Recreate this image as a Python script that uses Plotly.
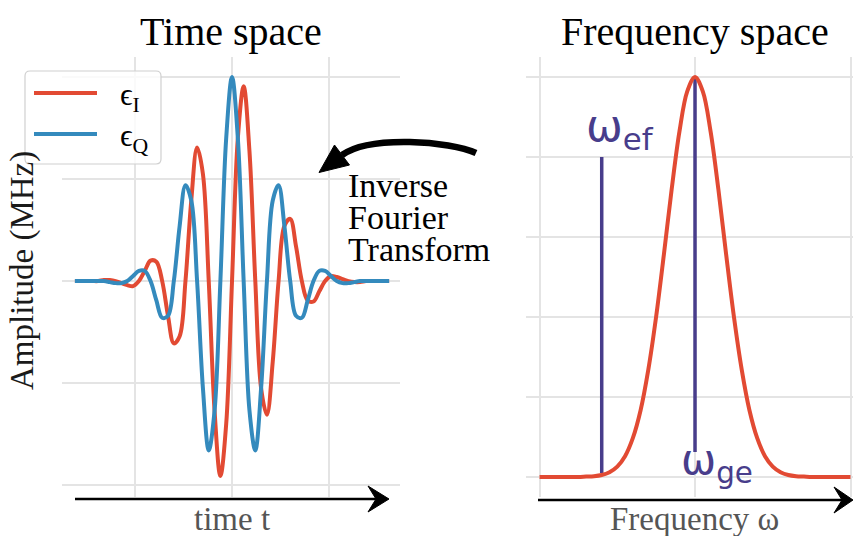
import plotly.graph_objects as go

W, H = 853, 536

# ---- time-domain pulse (in-phase / quadrature components) ----
time_t = [-1.62, -1.56, -1.50, -1.44, -1.38, -1.32, -1.26, -1.20, -1.14, -1.08,
          -1.02, -0.96, -0.90, -0.84, -0.78, -0.72, -0.66, -0.60, -0.54, -0.48,
          -0.42, -0.36, -0.30, -0.24, -0.18, -0.12, -0.06, 0.00, 0.06, 0.12,
          0.18, 0.24, 0.30, 0.36, 0.42, 0.48, 0.54, 0.60, 0.66, 0.72,
          0.78, 0.84, 0.90, 0.96, 1.02, 1.08, 1.14, 1.20, 1.26, 1.32,
          1.38, 1.44, 1.50, 1.56, 1.62]

eps_I = [0.00, 0.00, 0.00, 0.00, 0.00, 0.01, 0.01, 0.00, -0.02, -0.04,
         -0.05, 0.00, 0.10, 0.20, 0.19, 0.00, -0.34, -0.61, -0.54, 0.00,
         0.79, 1.31, 1.05, 0.00, -1.27, -1.91, -1.40, 0.00, 1.40, 1.91,
         1.27, 0.00, -1.05, -1.31, -0.79, 0.00, 0.54, 0.61, 0.34, 0.00,
         -0.19, -0.20, -0.10, 0.00, 0.05, 0.04, 0.02, 0.00, -0.01, -0.01,
         0.00, 0.00, 0.00, 0.00, 0.00]

eps_Q = [0.00, 0.00, 0.00, 0.00, 0.00, 0.00, -0.01, -0.02, -0.02, 0.00,
         0.05, 0.10, 0.10, 0.00, -0.19, -0.36, -0.34, 0.00, 0.54, 0.94,
         0.79, 0.00, -1.05, -1.66, -1.27, 0.00, 1.40, 2.00, 1.40, 0.00,
         -1.27, -1.66, -1.05, 0.00, 0.79, 0.94, 0.54, 0.00, -0.34, -0.36,
         -0.19, 0.00, 0.10, 0.10, 0.05, 0.00, -0.02, -0.02, -0.01, 0.00,
         0.00, 0.00, 0.00, 0.00, 0.00]

# ---- frequency-domain spectrum ----
freq_w = [-1.00, -0.95, -0.90, -0.85, -0.80, -0.75, -0.70, -0.65, -0.60, -0.55,
          -0.50, -0.45, -0.40, -0.35, -0.30, -0.25, -0.20, -0.15, -0.10, -0.05,
          0.00, 0.05, 0.10, 0.15, 0.20, 0.25, 0.30, 0.35, 0.40, 0.45,
          0.50, 0.55, 0.60, 0.65, 0.70, 0.75, 0.80, 0.85, 0.90, 0.95, 1.00]

spectrum = [0.000, 0.000, 0.000, 0.000, 0.000, 0.000, 0.001, 0.002, 0.005, 0.012,
            0.026, 0.052, 0.097, 0.167, 0.269, 0.401, 0.557, 0.720, 0.864, 0.964,
            1.000, 0.964, 0.864, 0.720, 0.557, 0.401, 0.269, 0.167, 0.097, 0.052,
            0.026, 0.012, 0.005, 0.002, 0.001, 0.000, 0.000, 0.000, 0.000, 0.000, 0.000]

# transition markers: position, lower end, upper end
transition_names = ["ef", "ge"]
transition_w = [-0.60, 0.00]
transition_low = [0.01, 0.0625]
transition_high = [0.80, 1.00]

# caption of the curved arrow, one line per entry
arrow_caption = ["Inverse", "Fourier", "Transform"]

RED = "#E24A33"
BLUE = "#348ABD"
PURPLE = "#483D8B"
GRID = "#e4e4e4"
SERIF = "Liberation Serif, Times New Roman, serif"
SANS = "DejaVu Sans, sans-serif"


def px(x):
    return x / W


def py(y):
    return 1 - y / H


fig = go.Figure()

fig.add_trace(go.Scatter(x=time_t, y=eps_I, mode="lines", name="eps_I",
                         line=dict(color=RED, width=4, shape="spline", smoothing=1.0),
                         xaxis="x", yaxis="y"))
fig.add_trace(go.Scatter(x=time_t, y=eps_Q, mode="lines", name="eps_Q",
                         line=dict(color=BLUE, width=4, shape="spline", smoothing=1.0),
                         xaxis="x", yaxis="y"))

for w, lo, hi in zip(transition_w, transition_low, transition_high):
    fig.add_trace(go.Scatter(x=[w, w], y=[lo, hi], mode="lines",
                             line=dict(color=PURPLE, width=3.5),
                             xaxis="x2", yaxis="y2"))

fig.add_trace(go.Scatter(x=freq_w, y=spectrum, mode="lines",
                         line=dict(color=RED, width=4, shape="spline", smoothing=1.0),
                         xaxis="x2", yaxis="y2"))

y_dom = [py(497), py(57)]
axis_common = dict(showgrid=True, gridcolor=GRID, gridwidth=1.5, zeroline=False,
                   showticklabels=False, ticks="", showline=False)

fig.update_layout(
    width=W, height=H,
    margin=dict(l=0, r=0, t=0, b=0),
    paper_bgcolor="white", plot_bgcolor="white",
    showlegend=False,
    xaxis=dict(domain=[px(62), px(400)], range=[-1.753, 1.732], tick0=0, dtick=1,
               anchor="y", **axis_common),
    yaxis=dict(domain=y_dom, range=[-2.116, 2.196], tick0=0, dtick=1,
               anchor="x", **axis_common),
    xaxis2=dict(domain=[px(526), 1.0], range=[-1.087, 1.016], tick0=0, dtick=1,
                anchor="y2", **axis_common),
    yaxis2=dict(domain=y_dom, range=[-0.05, 1.05], tick0=0, dtick=0.2,
                anchor="x2", **axis_common),
)

shapes = []

# arrow-style horizontal axes
def axis_arrow(x0, x1, y, head_len, half_w, notch):
    shapes.append(dict(type="line", xref="paper", yref="paper",
                       x0=px(x0), y0=py(y), x1=px(x1 - head_len + notch), y1=py(y),
                       line=dict(color="black", width=2.5), layer="above"))
    path = (f"M{px(x1)},{py(y)} L{px(x1 - head_len)},{py(y - half_w)} "
            f"L{px(x1 - head_len + notch)},{py(y)} L{px(x1 - head_len)},{py(y + half_w)} Z")
    shapes.append(dict(type="path", xref="paper", yref="paper", path=path,
                       fillcolor="black", line=dict(color="black", width=1), layer="above"))


axis_arrow(75, 389, 499, 21, 13, 8)
axis_arrow(538, 853, 500, 19, 13, 8)

# curved arrow between the panels
body = (f"M{px(476)},{py(153)} C{px(450)},{py(141)} {px(370)},{py(135)} "
        f"{px(342)},{py(155)}")
shapes.append(dict(type="path", xref="paper", yref="paper", path=body,
                   fillcolor="rgba(0,0,0,0)", line=dict(color="black", width=6.5),
                   layer="above"))
head = (f"M{px(319)},{py(172.5)} L{px(334.5)},{py(145)} L{px(349.5)},{py(165)} Z")
shapes.append(dict(type="path", xref="paper", yref="paper", path=head,
                   fillcolor="black", line=dict(color="black", width=1), layer="above"))

# legend frame with rounded corners
lx0, ly0, lx1, ly1, r = 25, 71, 161, 164, 5
frame = (f"M{px(lx0 + r)},{py(ly0)} L{px(lx1 - r)},{py(ly0)} "
         f"Q{px(lx1)},{py(ly0)} {px(lx1)},{py(ly0 + r)} "
         f"L{px(lx1)},{py(ly1 - r)} Q{px(lx1)},{py(ly1)} {px(lx1 - r)},{py(ly1)} "
         f"L{px(lx0 + r)},{py(ly1)} Q{px(lx0)},{py(ly1)} {px(lx0)},{py(ly1 - r)} "
         f"L{px(lx0)},{py(ly0 + r)} Q{px(lx0)},{py(ly0)} {px(lx0 + r)},{py(ly0)} Z")
shapes.append(dict(type="path", xref="paper", yref="paper", path=frame,
                   fillcolor="rgba(255,255,255,0.8)", line=dict(color="#d0d0d0", width=1.2),
                   layer="above"))
for color, yy in [(RED, 93), (BLUE, 134)]:
    shapes.append(dict(type="line", xref="paper", yref="paper",
                       x0=px(34), x1=px(97), y0=py(yy), y1=py(yy),
                       line=dict(color=color, width=4), layer="above"))

fig.update_layout(shapes=shapes)

annotations = []


def label(text, x, y, size, color="black", family=SERIF, xanchor="center", angle=0,
          box_h=None):
    ann = dict(text=text, x=px(x), y=py(y), xref="paper", yref="paper",
               showarrow=False, xanchor=xanchor, yanchor="middle",
               textangle=angle,
               font=dict(size=size, color=color, family=family))
    if box_h is not None:
        ann["height"] = box_h
    annotations.append(ann)


label("Time space", 231, 31, 40)
label("Frequency space", 694.5, 31, 40)
label("Amplitude (MHz)", 22, 271, 33, color="#1a1a1a", angle=-90)
label("time t", 231.5, 519, 33, color="#555555")
label("Frequency ω", 694.5, 519, 33, color="#555555")
for i, line in enumerate(arrow_caption):
    label(line, 346, 185 + 32 * i, 34, xanchor="left", box_h=30)
label("ϵ<sub>I</sub>", 118, 97, 31, xanchor="left")
label("ϵ<sub>Q</sub>", 118, 138, 31, xanchor="left")
label("ω<sub>" + transition_names[0] + "</sub>", 584, 128, 44,
      color=PURPLE, family=SANS, xanchor="left")
label("ω<sub>" + transition_names[1] + "</sub>", 679, 462, 42,
      color=PURPLE, family=SANS, xanchor="left")

fig.update_layout(annotations=annotations)

fig.write_html("out.html")
